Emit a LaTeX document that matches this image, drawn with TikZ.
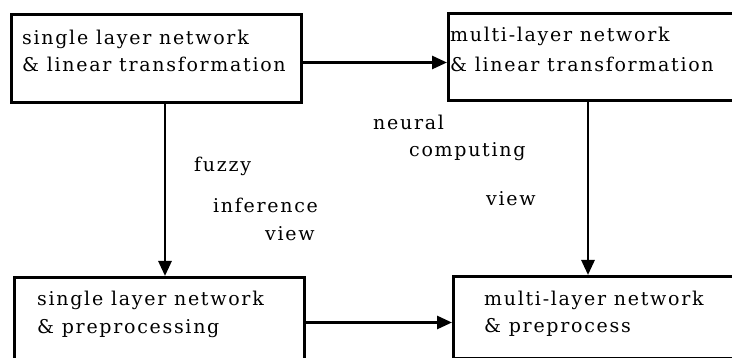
\documentclass[tikz,border=0pt]{standalone}
\usepackage{fontspec}
\setmainfont{DejaVu Serif}[LetterSpace=9]
\usetikzlibrary{arrows.meta}
\tikzset{
  box/.style={draw, line width=3pt, anchor=north west, inner sep=0pt},
  arr/.style={line width=2.8pt, -{Triangle[length=15pt,width=13pt]}},
  txt/.style={anchor=base west, inner sep=0pt, font=\fontsize{19}{22}\selectfont}
}
\begin{document}
\begin{tikzpicture}[x=1pt,y=-1pt]
\useasboundingbox (0,0) rectangle (732,358);
\clip (0,0) rectangle (732,358);
\node[box, minimum width=290pt, minimum height=88pt] (A) at (10,13) {};
\node[box, minimum width=300pt, minimum height=87pt] (B) at (447,12) {};
\node[box, minimum width=290pt, minimum height=90pt] (C) at (13,276) {};
\node[box, minimum width=300pt, minimum height=82pt] (D) at (452,275) {};
\node[txt] (a1) at (22,45) {single layer network};
\node[txt] (a2) at (22,72) {\& linear transformation};
\node[txt] (b1) at (450,42) {multi-layer network};
\node[txt] (b2) at (450,72) {\& linear transformation};
\node[txt] (c1) at (37,306) {single layer network};
\node[txt] (c2) at (37,334) {\& preprocessing};
\node[txt] (d1) at (484,306) {multi-layer network};
\node[txt] (d2) at (484,333) {\& preprocess};
\node[txt] (l1) at (194,172) {fuzzy};
\node[txt] (l2) at (213,213) {inference};
\node[txt] (l3) at (265,241) {view};
\node[txt] (r1) at (373,130) {neural};
\node[txt] (r2) at (409,157) {computing};
\node[txt] (r3) at (486,206) {view};
\draw[arr] ([yshift=-4pt]A.east) -- ([yshift=-4pt]A.east -| B.west);
\draw[arr] ([xshift=155pt]A.south west) -- ([xshift=152pt]C.north west);
\draw[arr] ([xshift=141pt]B.south west) -- ([xshift=136pt]D.north west);
\draw[arr] (C.east) -- (C.east -| D.west);
\end{tikzpicture}
\end{document}
